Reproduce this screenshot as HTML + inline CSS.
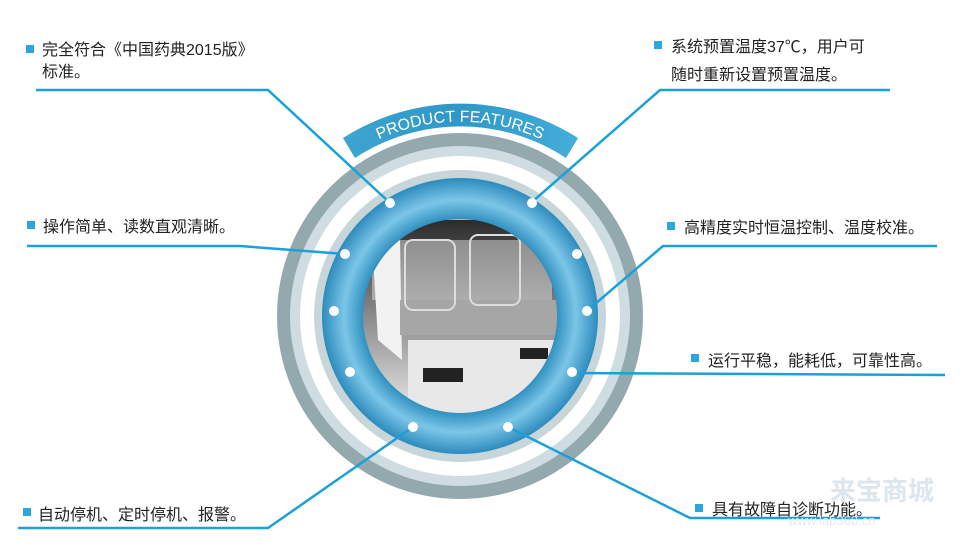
<!DOCTYPE html>
<html><head><meta charset="utf-8"><style>
html,body{margin:0;padding:0;background:#fff;}
svg{display:block}
.t{font-family:"Liberation Sans","Noto Sans CJK SC",sans-serif;font-size:16px;fill:#222;}
</style></head><body>
<svg width="968" height="552" viewBox="0 0 968 552" xmlns="http://www.w3.org/2000/svg">
<defs>
<radialGradient id="blue" cx="460" cy="316" r="138" gradientUnits="userSpaceOnUse">
<stop offset="0.70" stop-color="#2f8fbf"/>
<stop offset="0.84" stop-color="#7cc6e8"/>
<stop offset="1" stop-color="#2d8bbd"/>
</radialGradient>
<linearGradient id="photo" x1="0" y1="0" x2="0" y2="1">
<stop offset="0" stop-color="#2a2a2a"/>
<stop offset="0.5" stop-color="#8a8a8a"/>
<stop offset="1" stop-color="#e8e8e8"/>
</linearGradient>
<linearGradient id="ban" x1="0" y1="0" x2="1" y2="0">
<stop offset="0" stop-color="#3da5d0"/>
<stop offset="0.5" stop-color="#2d97c6"/>
<stop offset="1" stop-color="#45aedb"/>
</linearGradient>
<clipPath id="cp"><circle cx="460" cy="316" r="97"/></clipPath>
<path id="arc" d="M 335 167 A 195 195 0 0 1 585 167"/>
</defs>
<!-- outer rings -->
<circle cx="460" cy="316" r="183" fill="#93a9ad"/>
<circle cx="460" cy="316" r="170" fill="#cfdde2"/>
<circle cx="460" cy="316" r="160" fill="#ffffff"/>
<circle cx="460" cy="316" r="146" fill="#c8d6da"/>
<circle cx="460" cy="316" r="138" fill="url(#blue)"/>
<circle cx="460" cy="316" r="97" fill="url(#photo)"/>
<!-- banner -->
<path d="M 343 138 A 218 218 0 0 1 578 138 L 566 158 A 192 192 0 0 0 355 158 Z" fill="url(#ban)"/>
<text font-family="Liberation Sans,sans-serif" font-size="16" fill="#fff"><textPath href="#arc" startOffset="50%" text-anchor="middle">PRODUCT FEATURES</textPath></text>
<!-- device -->
<g clip-path="url(#cp)">
<rect x="372" y="240" width="180" height="60" fill="#e0e0e0" opacity="0.5"/>
<path d="M372 240 L400 240 L402 360 L378 340 Z" fill="#f2f2f2"/>
<rect x="400" y="300" width="160" height="35" fill="#a6a6a6"/>
<rect x="408" y="340" width="150" height="70" fill="#e8e8e8"/>
<rect x="423" y="368" width="40" height="14" fill="#222"/>
<rect x="520" y="348" width="28" height="11" fill="#222"/>
<rect x="405" y="240" width="50" height="70" rx="8" fill="none" stroke="#ddd" stroke-width="2"/>
<rect x="470" y="235" width="50" height="70" rx="8" fill="none" stroke="#ddd" stroke-width="2"/>
<rect x="438" y="215" width="62" height="5" fill="#bbb"/>
</g>
<!-- connectors -->
<g stroke="#1ba0db" stroke-width="2.5" fill="none">
<polyline points="36,90 268,90 389,202"/>
<polyline points="890,90 660,90 532,202"/>
<polyline points="27,246 240,246 345,254"/>
<polyline points="937,246 663,246 588,310"/>
<polyline points="945,375 572,373"/>
<polyline points="880,518 690,518 508,427"/>
<polyline points="18,528 268,528 413,427"/>
</g>
<g fill="#fff">
<circle cx="390" cy="203" r="5"/><circle cx="532" cy="203" r="5"/>
<circle cx="345" cy="254" r="5"/><circle cx="577" cy="254" r="5"/>
<circle cx="334" cy="311" r="5"/><circle cx="587" cy="311" r="5"/>
<circle cx="350" cy="372" r="5"/><circle cx="572" cy="372" r="5"/>
<circle cx="413" cy="427" r="5"/><circle cx="508" cy="427" r="5"/>
</g>
<!-- bullets -->
<g fill="#2ba6df">
<rect x="26" y="45" width="8" height="8"/>
<rect x="654" y="41" width="8" height="8"/>
<rect x="27" y="221" width="8" height="8"/>
<rect x="667" y="222" width="8" height="8"/>
<rect x="691" y="354" width="8" height="8"/>
<rect x="695" y="504" width="8" height="8"/>
<rect x="23" y="508" width="8" height="8"/>
</g>
<text class="t" x="42" y="55">完全符合《中国药典2015版》</text>
<text class="t" x="42" y="77">标准。</text>
<text class="t" x="671" y="52">系统预置温度37℃，用户可</text>
<text class="t" x="671" y="80">随时重新设置预置温度。</text>
<text class="t" x="43" y="232">操作简单、读数直观清晰。</text>
<text class="t" x="684" y="233">高精度实时恒温控制、温度校准。</text>
<text class="t" x="708" y="366">运行平稳，能耗低，可靠性高。</text>
<text class="t" x="712" y="515">具有故障自诊断功能。</text>
<text class="t" x="38" y="520">自动停机、定时停机、报警。</text>
<text x="830" y="500" font-family="Liberation Sans,Noto Sans CJK SC,sans-serif" font-size="26" font-weight="bold" fill="#dde6ee">来宝商城</text>
<text x="788" y="525" font-family="Liberation Sans,sans-serif" font-size="13" fill="#e3e9ef">www.lab360.cn</text>
</svg>
</body></html>
